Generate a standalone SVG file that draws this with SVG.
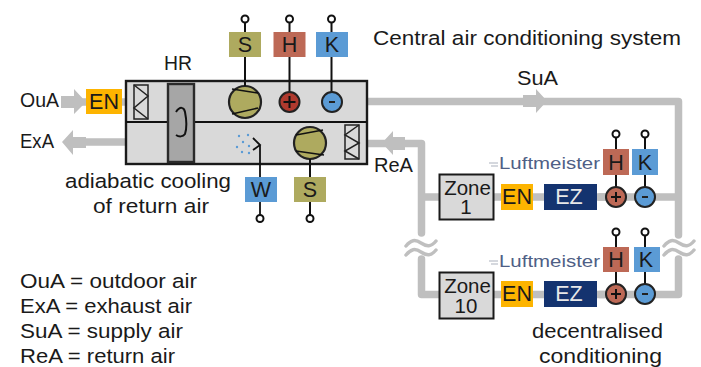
<svg xmlns="http://www.w3.org/2000/svg" width="701" height="367" viewBox="0 0 701 367">
<style>
text{font-family:"Liberation Sans",Arial,sans-serif;font-size:20.5px;fill:#1a1a1a}
.m{text-anchor:middle}
.b{font-size:21.5px}
.pipe{fill:none;stroke:#bfbfbf;stroke-width:7.5;stroke-linejoin:round;stroke-linecap:round}
.ah{fill:#bfbfbf}
.wave{fill:none;stroke:#bfbfbf;stroke-width:3.5;stroke-linecap:round}
.w{fill:none;stroke:#111;stroke-width:2}
.pin{fill:#fff;stroke:#111;stroke-width:2}
.box{fill:#d9d9d9;stroke:#1a1a1a;stroke-width:2}
.fan{fill:#aeaa5f;stroke:#222;stroke-width:2.2}
.ol{fill:#aeaa5f}.hh{fill:#bd6956}.kk{fill:#5b9bd5}.en{fill:#fdb400}.ez{fill:#14336f}
.lm{font-size:17px;fill:#4f5f86}
.dot{fill:#5b9bd5}
</style>
<g id="connectors">
<path class="pipe" d="M67 102H126M367 101.500H678.500V235M678.500 259V294.500H600M678.500 197H600"/>
<path class="pipe" d="M80 142H126M367 143.500H421.500V233M421.500 259V294.500H440M421.500 197H440"/>
<path class="pipe" d="M494 197H604M494 294.500H604"/>
<path class="ah" d="M61 96H74V89L86 102L74 114V108H61Z"/>
<path class="ah" d="M62 142L73 130V137H86V148H73V155Z"/>
<path class="ah" d="M523 95H536V89L547 101L536 113V107H523Z"/>
<path class="ah" d="M382 143L393 131V137H405V150H393V155Z"/>
<path class="wave" d="M406 246c5-6 9-7 15-3s10 4 15-2M406 255c5-6 9-7 15-3s10 4 15-2"/>
<path class="wave" d="M664 246c5-6 9-7 15-3s10 4 15-2M664 255c5-6 9-7 15-3s10 4 15-2"/>
</g>
<g id="ahu">
<rect class="box" x="126" y="81" width="241" height="83" style="stroke-width:2.4"/>
<path class="w" d="M126 122H367"/>
</g>
<g id="filter-in"><rect x="134" y="85" width="14" height="34" fill="none" stroke="#222" stroke-width="1.5"/><path d="M134 85L148 96L134 108L148 119" fill="none" stroke="#222" stroke-width="1.5"/></g>
<g id="filter-out"><rect x="345" y="125" width="14" height="34" fill="none" stroke="#222" stroke-width="1.5"/><path d="M359 125L345 135L359 143L345 151L359 159" fill="none" stroke="#222" stroke-width="1.5"/></g>
<g id="hr">
<rect x="168" y="84" width="26" height="78" fill="#a6a6a6" stroke="#2a2a2a" stroke-width="2.4"/>
<path d="M176 112C180 106 184 107 185 112C187 122 187 128 185 134C183 137 179 137 176 135" fill="none" stroke="#111" stroke-width="2"/>
<text x="164" y="70" textLength="28" lengthAdjust="spacingAndGlyphs">HR</text>
</g>
<g id="fan-supply"><circle class="fan" cx="245" cy="102" r="16"/><path class="w" d="M232 89L258 93M232 114L258 108" style="stroke-width:1.600"/></g>
<g id="fan-return"><circle class="fan" cx="310" cy="143" r="16"/><path class="w" d="M296 135L323 130M296 151L324 155" style="stroke-width:1.600"/></g>
<g id="s-top"><path class="w" d="M245 22V86"/><circle class="pin" cx="245" cy="19" r="3.500"/><rect class="ol" x="229" y="32" width="32" height="25"/><text class="m b" x="245" y="52">S</text></g>
<g id="h-top"><path class="w" d="M289.500 22V92"/><circle class="pin" cx="289.500" cy="19" r="3.500"/><rect class="hh" x="273.500" y="32" width="32" height="25"/><text class="m b" x="289.500" y="52">H</text>
<circle cx="289.500" cy="102" r="10" fill="#b03a2e" stroke="#222" stroke-width="2"/><path class="w" d="M283.500 102H295.500M289.500 96V108"/></g>
<g id="k-top"><path class="w" d="M331.500 22V92"/><circle class="pin" cx="331.500" cy="19" r="3.500"/><rect class="kk" x="316" y="32" width="32" height="25"/><text class="m b" x="332" y="52">K</text>
<circle cx="332" cy="102" r="10" fill="#5b9bd5" stroke="#222" stroke-width="2"/><path d="M329 102H335" stroke="#222" stroke-width="2"/></g>
<g id="en-top"><rect class="en" x="86" y="89" width="36" height="25"/><text class="m b" x="104" y="109">EN</text></g>
<g id="w-unit"><path class="w" d="M260 145V215M253 138L260 145L253 150" style="stroke-width:1.800"/><circle class="pin" cx="260" cy="218.500" r="3.500"/><rect class="kk" x="245" y="177" width="32" height="25"/><text class="m b" x="261" y="197">W</text>
<g class="dot"><circle cx="239" cy="136" r="1.200"/><circle cx="248" cy="135" r="1.200"/><circle cx="243" cy="142" r="1.200"/><circle cx="237" cy="147" r="1.200"/><circle cx="249" cy="146" r="1.200"/><circle cx="242" cy="152" r="1.200"/><circle cx="249" cy="153" r="1.200"/></g></g>
<g id="s-bottom"><path class="w" d="M310 159V215"/><circle class="pin" cx="310" cy="218.500" r="3.500"/><rect class="ol" x="294" y="177" width="32" height="25"/><text class="m b" x="310" y="197">S</text></g>
<g id="zone-1"><rect class="box" x="439.500" y="174.500" width="54" height="45"/><text class="m"><tspan x="467.500" y="195">Zone</tspan><tspan x="466" y="214">1</tspan></text></g>
<g id="zone-10"><rect class="box" x="439.500" y="272.500" width="54" height="46"/><text class="m"><tspan x="467.500" y="293">Zone</tspan><tspan x="466" y="313">10</tspan></text></g>
<g id="row-1">
<rect class="en" x="501" y="184" width="32" height="26"/><text class="m b" x="517" y="204">EN</text>
<rect class="ez" x="544" y="184" width="53" height="26"/><text class="m b" x="569" y="204" style="fill:#e8e8e8">EZ</text>
<path class="w" d="M616 137V187M645 137V187"/>
<circle class="pin" cx="616" cy="134" r="3.500"/><circle class="pin" cx="645" cy="134" r="3.500"/>
<rect class="hh" x="603" y="149" width="26" height="26"/><text class="m b" x="616" y="170">H</text>
<rect class="kk" x="632" y="149" width="26" height="26"/><text class="m b" x="645" y="170">K</text>
<circle cx="616" cy="197" r="10" fill="#bd6956" stroke="#222" stroke-width="2"/><path class="w" d="M611 197H621M616 192V202"/>
<circle cx="645" cy="197" r="10" fill="#5b9bd5" stroke="#222" stroke-width="2"/><path d="M642 197H648" stroke="#222" stroke-width="2"/>
<path d="M489 163H498M491 166H498" stroke="#c8ccd4" stroke-width="1.500"/>
<text class="lm" x="499" y="169" textLength="101" lengthAdjust="spacingAndGlyphs">Luftmeister</text>
</g>
<g id="row-10">
<rect class="en" x="501" y="281" width="32" height="26"/><text class="m b" x="517" y="301">EN</text>
<rect class="ez" x="544" y="281" width="53" height="26"/><text class="m b" x="569" y="301" style="fill:#e8e8e8">EZ</text>
<path class="w" d="M616 235V284M645 235V284"/>
<circle class="pin" cx="616" cy="232" r="3.500"/><circle class="pin" cx="645" cy="232" r="3.500"/>
<rect class="hh" x="603" y="247" width="26" height="25"/><text class="m b" x="616" y="267">H</text>
<rect class="kk" x="634" y="247" width="26" height="25"/><text class="m b" x="646" y="267">K</text>
<circle cx="616" cy="294" r="10" fill="#bd6956" stroke="#222" stroke-width="2"/><path class="w" d="M611 294H621M616 289V299"/>
<circle cx="645" cy="294" r="10" fill="#5b9bd5" stroke="#222" stroke-width="2"/><path d="M642 294H648" stroke="#222" stroke-width="2"/>
<path d="M489 261H498M491 264H498" stroke="#c8ccd4" stroke-width="1.500"/>
<text class="lm" x="499" y="267" textLength="101" lengthAdjust="spacingAndGlyphs">Luftmeister</text>
</g>
<g id="labels">
<text x="373" y="45" textLength="308" lengthAdjust="spacingAndGlyphs">Central air conditioning system</text>
<text x="517" y="85" textLength="41" lengthAdjust="spacingAndGlyphs">SuA</text>
<text x="374" y="172" textLength="39" lengthAdjust="spacingAndGlyphs">ReA</text>
<text x="20" y="107" textLength="39" lengthAdjust="spacingAndGlyphs">OuA</text>
<text x="20" y="148" textLength="34" lengthAdjust="spacingAndGlyphs">ExA</text>
<text x="65" y="188" textLength="166" lengthAdjust="spacingAndGlyphs">adiabatic cooling</text>
<text x="93" y="213" textLength="116" lengthAdjust="spacingAndGlyphs">of return air</text>
<text x="532" y="338" textLength="131" lengthAdjust="spacingAndGlyphs">decentralised</text>
<text x="539" y="363" textLength="123" lengthAdjust="spacingAndGlyphs">conditioning</text>
<text x="20" y="288" textLength="177" lengthAdjust="spacingAndGlyphs">OuA = outdoor air</text>
<text x="20" y="313" textLength="172" lengthAdjust="spacingAndGlyphs">ExA = exhaust air</text>
<text x="20" y="338" textLength="163" lengthAdjust="spacingAndGlyphs">SuA = supply air</text>
<text x="20" y="363" textLength="155" lengthAdjust="spacingAndGlyphs">ReA = return air</text>
</g>
</svg>
